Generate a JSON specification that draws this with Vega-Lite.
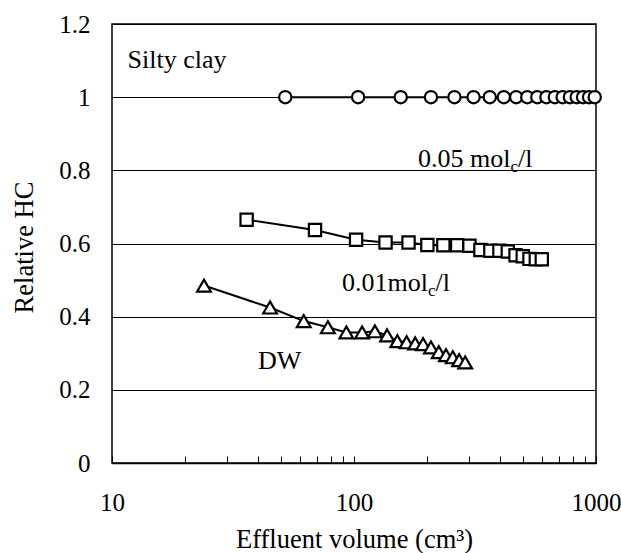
{
  "$schema": "https://vega.github.io/schema/vega-lite/v6.json",
  "width": 484,
  "height": 439,
  "autosize": {"type": "none"},
  "padding": {"left": 112, "top": 24, "right": 25, "bottom": 90},
  "background": "white",
  "config": {
    "view": {"stroke": "black", "strokeWidth": 1.5},
    "font": "Liberation Serif",
    "text": {"font": "Liberation Serif"},
    "axis": {"labelFont": "Liberation Serif", "titleFont": "Liberation Serif"},
    "style": {
      "guide-label": {"font": "Liberation Serif"},
      "guide-title": {"font": "Liberation Serif"}
    }
  },
  "datasets": {
    "pts": [
      {"series": "0.05", "volume": 52, "hc": 1.0},
      {"series": "0.05", "volume": 104, "hc": 1.0},
      {"series": "0.05", "volume": 156, "hc": 1.0},
      {"series": "0.05", "volume": 208, "hc": 1.0},
      {"series": "0.05", "volume": 260, "hc": 1.0},
      {"series": "0.05", "volume": 312, "hc": 1.0},
      {"series": "0.05", "volume": 364, "hc": 1.0},
      {"series": "0.05", "volume": 416, "hc": 1.0},
      {"series": "0.05", "volume": 468, "hc": 1.0},
      {"series": "0.05", "volume": 520, "hc": 1.0},
      {"series": "0.05", "volume": 572, "hc": 1.0},
      {"series": "0.05", "volume": 624, "hc": 1.0},
      {"series": "0.05", "volume": 676, "hc": 1.0},
      {"series": "0.05", "volume": 728, "hc": 1.0},
      {"series": "0.05", "volume": 780, "hc": 1.0},
      {"series": "0.05", "volume": 832, "hc": 1.0},
      {"series": "0.05", "volume": 884, "hc": 1.0},
      {"series": "0.05", "volume": 936, "hc": 1.0},
      {"series": "0.05", "volume": 988, "hc": 1.0},
      {"series": "0.01", "volume": 36, "hc": 0.665},
      {"series": "0.01", "volume": 69, "hc": 0.637},
      {"series": "0.01", "volume": 102, "hc": 0.61},
      {"series": "0.01", "volume": 135, "hc": 0.603},
      {"series": "0.01", "volume": 168, "hc": 0.603},
      {"series": "0.01", "volume": 201, "hc": 0.596},
      {"series": "0.01", "volume": 234, "hc": 0.595},
      {"series": "0.01", "volume": 267, "hc": 0.595},
      {"series": "0.01", "volume": 300, "hc": 0.594},
      {"series": "0.01", "volume": 333, "hc": 0.582},
      {"series": "0.01", "volume": 366, "hc": 0.58},
      {"series": "0.01", "volume": 399, "hc": 0.58},
      {"series": "0.01", "volume": 432, "hc": 0.578},
      {"series": "0.01", "volume": 465, "hc": 0.568},
      {"series": "0.01", "volume": 498, "hc": 0.565},
      {"series": "0.01", "volume": 531, "hc": 0.558},
      {"series": "0.01", "volume": 564, "hc": 0.557},
      {"series": "0.01", "volume": 597, "hc": 0.557},
      {"series": "DW", "volume": 24, "hc": 0.485},
      {"series": "DW", "volume": 45, "hc": 0.425},
      {"series": "DW", "volume": 62, "hc": 0.388},
      {"series": "DW", "volume": 78, "hc": 0.371},
      {"series": "DW", "volume": 93, "hc": 0.357},
      {"series": "DW", "volume": 108, "hc": 0.357},
      {"series": "DW", "volume": 122, "hc": 0.36},
      {"series": "DW", "volume": 137, "hc": 0.349},
      {"series": "DW", "volume": 151, "hc": 0.333},
      {"series": "DW", "volume": 165, "hc": 0.33},
      {"series": "DW", "volume": 179, "hc": 0.327},
      {"series": "DW", "volume": 193, "hc": 0.325},
      {"series": "DW", "volume": 208, "hc": 0.316},
      {"series": "DW", "volume": 224, "hc": 0.303},
      {"series": "DW", "volume": 240, "hc": 0.295},
      {"series": "DW", "volume": 256, "hc": 0.289},
      {"series": "DW", "volume": 272, "hc": 0.281},
      {"series": "DW", "volume": 288, "hc": 0.275}
    ],
    "notes": [
      {"t": "Silty clay", "volume": 11.6, "hc": 1.08, "kind": "main"},
      {"t": "0.05 mol", "volume": 184, "hc": 0.809, "kind": "main"},
      {"t": "c", "volume": 443, "hc": 0.809, "kind": "sub"},
      {"t": "/l", "volume": 476, "hc": 0.809, "kind": "main"},
      {"t": "0.01mol", "volume": 89.2, "hc": 0.47, "kind": "main"},
      {"t": "c", "volume": 202, "hc": 0.47, "kind": "sub"},
      {"t": "/l", "volume": 217, "hc": 0.47, "kind": "main"},
      {"t": "DW", "volume": 40.1, "hc": 0.257, "kind": "main"}
    ]
  },
  "encoding": {
    "x": {
      "field": "volume",
      "type": "quantitative",
      "scale": {"type": "log", "domain": [10, 1000], "nice": false},
      "axis": {
        "values": [10, 20, 30, 40, 50, 60, 70, 80, 90, 100, 200, 300, 400, 500, 600, 700, 800, 900, 1000],
        "labelExpr": "indexof([10, 100, 1000], datum.value) >= 0 ? '' + datum.value : ''",
        "grid": false,
        "tickSize": -7,
        "tickColor": "black",
        "tickWidth": 1,
        "domainColor": "black",
        "domainWidth": 1.5,
        "labelFont": "Liberation Serif",
        "labelFontSize": 25,
        "labelColor": "black",
        "labelBaseline": "alphabetic",
        "labelPadding": 54,
        "labelFlush": false,
        "labelOverlap": false,
        "title": "Effluent volume (cm³)",
        "titleFont": "Liberation Serif",
        "titleFontSize": 26.5,
        "titleFontWeight": "normal",
        "titleColor": "black",
        "titleBaseline": "alphabetic",
        "titleX": 242,
        "titleY": 84
      }
    },
    "y": {
      "field": "hc",
      "type": "quantitative",
      "scale": {"domain": [0, 1.2], "nice": false, "zero": true},
      "axis": {
        "values": [0, 0.2, 0.4, 0.6, 0.8, 1, 1.2],
        "format": ".1~f",
        "grid": true,
        "gridColor": "black",
        "gridWidth": 1.2,
        "gridOpacity": 1,
        "ticks": false,
        "domain": false,
        "labelFont": "Liberation Serif",
        "labelFontSize": 25,
        "labelColor": "black",
        "labelPadding": 22,
        "title": "Relative HC",
        "titleFont": "Liberation Serif",
        "titleFontSize": 26.5,
        "titleFontWeight": "normal",
        "titleColor": "black",
        "titleBaseline": "alphabetic",
        "titleAngle": -90,
        "titleX": -80,
        "titleY": 223
      }
    }
  },
  "layer": [
    {
      "data": {"name": "pts"},
      "mark": {"type": "line", "color": "black", "strokeWidth": 2},
      "encoding": {"detail": {"field": "series"}}
    },
    {
      "data": {"name": "pts"},
      "transform": [{"filter": "datum.series == '0.05'"}],
      "mark": {"type": "point", "shape": "circle", "size": 150, "fill": "white", "stroke": "black", "strokeWidth": 2.2, "opacity": 1, "fillOpacity": 1}
    },
    {
      "data": {"name": "pts"},
      "transform": [{"filter": "datum.series == '0.01'"}],
      "mark": {"type": "point", "shape": "square", "size": 150, "fill": "white", "stroke": "black", "strokeWidth": 2.2, "opacity": 1, "fillOpacity": 1}
    },
    {
      "data": {"name": "pts"},
      "transform": [{"filter": "datum.series == 'DW'"}],
      "mark": {"type": "point", "shape": "triangle-up", "size": 190, "fill": "white", "stroke": "black", "strokeWidth": 2.2, "opacity": 1, "fillOpacity": 1}
    },
    {
      "data": {"name": "notes"},
      "transform": [{"filter": "datum.kind == 'main'"}],
      "mark": {"type": "text", "align": "left", "baseline": "alphabetic", "fontSize": 26, "color": "black", "font": "Liberation Serif"},
      "encoding": {"text": {"field": "t"}}
    },
    {
      "data": {"name": "notes"},
      "transform": [{"filter": "datum.kind == 'sub'"}],
      "mark": {"type": "text", "align": "left", "baseline": "alphabetic", "fontSize": 17, "dy": 5, "color": "black", "font": "Liberation Serif"},
      "encoding": {"text": {"field": "t"}}
    }
  ]
}
